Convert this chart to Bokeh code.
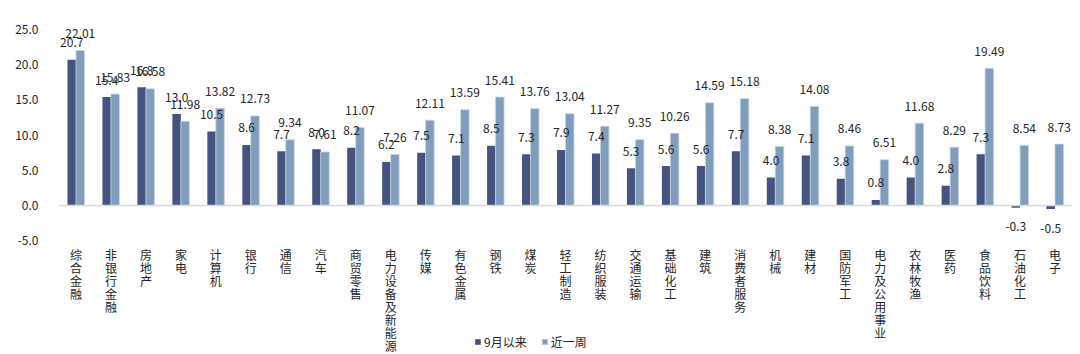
from bokeh.plotting import figure
from bokeh.models import (FactorRange, Range1d, Span, FixedTicker, PrintfTickFormatter,
                          Legend, LegendItem, ColumnDataSource)
from bokeh.transform import dodge
from bokeh.core.properties import value
from bokeh.embed import file_html
from bokeh.resources import INLINE

categories = ["综合金融", "非银行金融", "房地产", "家电", "计算机", "银行", "通信", "汽车",
              "商贸零售", "电力设备及新能源", "传媒", "有色金属", "钢铁", "煤炭", "轻工制造",
              "纺织服装", "交通运输", "基础化工", "建筑", "消费者服务", "机械", "建材",
              "国防军工", "电力及公用事业", "农林牧渔", "医药", "食品饮料", "石油化工", "电子"]
since_sep = [20.7, 15.4, 16.8, 13.0, 10.5, 8.6, 7.7, 8.0, 8.2, 6.2, 7.5, 7.1, 8.5, 7.3, 7.9,
             7.4, 5.3, 5.6, 5.6, 7.7, 4.0, 7.1, 3.8, 0.8, 4.0, 2.8, 7.3, -0.3, -0.5]
last_week = [22.01, 15.83, 16.58, 11.98, 13.82, 12.73, 9.34, 7.61, 11.07, 7.26, 12.11, 13.59,
             15.41, 13.76, 13.04, 11.27, 9.35, 10.26, 14.59, 15.18, 8.38, 14.08, 8.46, 6.51,
             11.68, 8.29, 19.49, 8.54, 8.73]
series_names = ["9月以来", "近一周"]
y_ticks = [-5, 0, 5, 10, 15, 20, 25]
y_min, y_max = -5, 25

DARK = "#44547E"
LIGHT = "#819DBC"
FONT = "Noto Sans CJK SC"
TXT = "#262626"

src = ColumnDataSource(dict(
    cat=categories,
    a=since_sep,
    b=last_week,
    a_lbl=[f"{v:.1f}" for v in since_sep],
    b_lbl=[f"{v:.2f}" for v in last_week],
    a_off=[-17 if v >= 0 else 19 for v in since_sep],
    b_off=[-17 if v >= 0 else 19 for v in last_week],
))

# one row per character of each category label (stacked vertically)
ch_cat, ch_txt, ch_off = [], [], []
for c in categories:
    for i, ch in enumerate(c):
        ch_cat.append(c)
        ch_txt.append(ch)
        ch_off.append(14 + 12.9 * i)
chars = ColumnDataSource(dict(cat=ch_cat, ch=ch_txt, off=ch_off, base=[y_min] * len(ch_cat)))

# frame extends below the value axis so that category labels and legend are drawn inside it
p = figure(width=1080, height=354, x_range=FactorRange(*categories),
           y_range=Range1d(-21.16, 26), output_backend="svg", toolbar_location=None,
           min_border_left=58, min_border_right=8, min_border_top=22, min_border_bottom=0)
p.outline_line_color = None
p.xgrid.visible = False
p.ygrid.visible = False
p.x_range.range_padding = 0
p.background_fill_color = "white"
p.border_fill_color = "white"
p.xaxis.visible = False

w = 0.243
r1 = p.vbar(x=dodge("cat", -w / 2, range=p.x_range), top="a", bottom=0, width=w,
            source=src, fill_color=DARK, line_color=None)
r2 = p.vbar(x=dodge("cat", w / 2, range=p.x_range), top="b", bottom=0, width=w,
            source=src, fill_color=LIGHT, line_color="#C8D4E3", line_width=0.8)

p.add_layout(Span(location=0, dimension="width", line_color="#D9D9D9", line_width=1.5))

p.text(x=dodge("cat", -w / 2, range=p.x_range), y="a", text="a_lbl", source=src,
       y_offset="a_off", text_align="center", text_baseline="middle",
       text_font=value(FONT), text_font_size="12px", text_color=TXT)
p.text(x=dodge("cat", w / 2, range=p.x_range), y="b", text="b_lbl", source=src,
       y_offset="b_off", text_align="center", text_baseline="middle",
       text_font=value(FONT), text_font_size="12px", text_color=TXT)

# category labels, characters stacked vertically
p.text(x="cat", y="base", text="ch", source=chars, y_offset="off",
       text_align="center", text_baseline="middle",
       text_font=value(FONT), text_font_size="12px", text_color=TXT)

# y axis
yax = p.yaxis[0]
yax.ticker = FixedTicker(ticks=y_ticks)
yax.formatter = PrintfTickFormatter(format="%.1f")
yax.axis_line_color = None
yax.major_tick_line_color = None
yax.minor_tick_line_color = None
yax.major_label_standoff = 14
yax.major_label_text_font = FONT
yax.major_label_text_font_size = "12px"
yax.major_label_text_color = TXT

legend = Legend(items=[LegendItem(label=series_names[0], renderers=[r1]),
                       LegendItem(label=series_names[1], renderers=[r2])],
                orientation="horizontal", location=(416, 4),
                border_line_color=None, background_fill_alpha=0,
                padding=0, margin=0, spacing=14, label_standoff=3,
                glyph_width=7, glyph_height=7, label_height=14,
                label_text_font=FONT, label_text_font_size="12px",
                label_text_color=TXT)
p.add_layout(legend, "center")

open("out.html", "w").write(file_html(p, INLINE))
